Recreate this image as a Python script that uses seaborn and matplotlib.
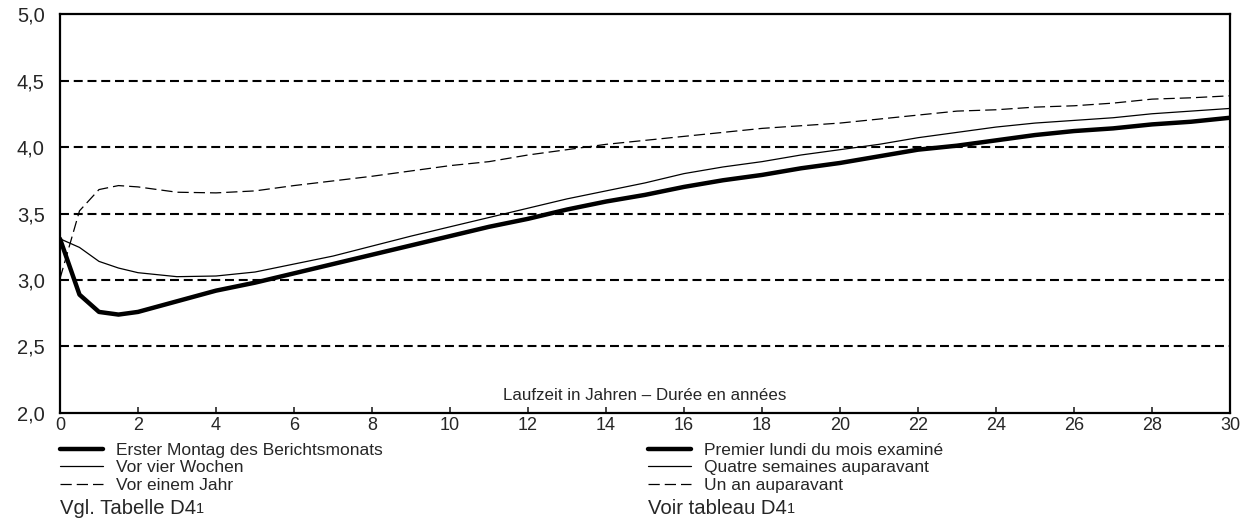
import numpy as np
import pandas as pd
import seaborn as sns
import matplotlib.pyplot as plt
from matplotlib.ticker import FuncFormatter

# Zinsstruktur / courbe des taux
LAUFZEIT = [0, 0.5, 1, 1.5, 2, 3, 4, 5, 6, 7, 8, 9, 10, 11, 12, 13, 14, 15,
            16, 17, 18, 19, 20, 21, 22, 23, 24, 25, 26, 27, 28, 29, 30]
ERSTER_MONTAG = [3.31, 2.89, 2.76, 2.74, 2.76, 2.84, 2.92, 2.98, 3.05, 3.12, 3.19,
                 3.26, 3.33, 3.40, 3.46, 3.53, 3.59, 3.64, 3.70, 3.75, 3.79, 3.84,
                 3.88, 3.93, 3.98, 4.01, 4.05, 4.09, 4.12, 4.14, 4.17, 4.19, 4.22]
VOR_VIER_WOCHEN = [3.31, 3.245, 3.14, 3.09, 3.055, 3.025, 3.03, 3.06, 3.12, 3.18, 3.255,
                   3.33, 3.40, 3.47, 3.54, 3.61, 3.67, 3.73, 3.80, 3.85, 3.89, 3.94,
                   3.98, 4.02, 4.07, 4.11, 4.15, 4.18, 4.20, 4.22, 4.25, 4.27, 4.29]
VOR_EINEM_JAHR = [3.01, 3.52, 3.68, 3.71, 3.70, 3.66, 3.655, 3.67, 3.71, 3.745, 3.78,
                  3.82, 3.86, 3.89, 3.94, 3.98, 4.02, 4.05, 4.08, 4.11, 4.14, 4.16,
                  4.18, 4.21, 4.24, 4.27, 4.28, 4.30, 4.31, 4.33, 4.36, 4.37, 4.385]

LABELS_DE = ['Erster Montag des Berichtsmonats', 'Vor vier Wochen', 'Vor einem Jahr']
LABELS_FR = ['Premier lundi du mois examiné', 'Quatre semaines auparavant', 'Un an auparavant']
GRID_LEVELS = [2.5, 3.0, 3.5, 4.0, 4.5]

sns.set_style('white')
plt.rcParams['font.family'] = ['Liberation Sans', 'DejaVu Sans']

df = pd.DataFrame({'x': LAUFZEIT, 'a': ERSTER_MONTAG, 'b': VOR_VIER_WOCHEN, 'c': VOR_EINEM_JAHR})

fig = plt.figure(figsize=(12.47, 5.21), dpi=100)
ax = fig.add_axes([0.0481, 0.2073, 0.9383, 0.7658])

for lev in GRID_LEVELS:
    ax.axhline(lev, color='black', lw=1.5, dashes=(4.3, 2.3), zorder=1)

sns.lineplot(data=df, x='x', y='a', ax=ax, color='black', lw=3.2, zorder=4)
sns.lineplot(data=df, x='x', y='b', ax=ax, color='black', lw=0.9, zorder=3)
sns.lineplot(data=df, x='x', y='c', ax=ax, color='black', lw=0.9, dashes=(9, 4), zorder=3)

ax.set_xlim(0, 30)
ax.set_ylim(2.0, 5.0)
ax.set_xticks(np.arange(0, 31, 2))
ax.set_yticks(np.arange(2.0, 5.01, 0.5))
ax.yaxis.set_major_formatter(FuncFormatter(lambda v, p: f'{v:.1f}'.replace('.', ',')))
ax.tick_params(axis='x', direction='in', length=4, width=1.2, pad=3, labelsize=13, bottom=True)
ax.tick_params(axis='y', length=0, pad=11, labelsize=14.5)
ax.set_xlabel('')
ax.set_ylabel('')
for s in ax.spines.values():
    s.set_linewidth(1.6)
    s.set_color('black')
ax.text(15, 2.13, 'Laufzeit in Jahren – Durée en années', ha='center', va='center', fontsize=12.2)

lines = ax.get_lines()[len(GRID_LEVELS):]
leg_kw = dict(frameon=False, fontsize=12.5, handlelength=2.45, handletextpad=0.75,
              labelspacing=0.12, borderpad=0, borderaxespad=0)
fig.legend(lines, LABELS_DE, loc='upper left', bbox_to_anchor=(0.0481, 1 - 443 / 521), **leg_kw)
fig.legend(lines, LABELS_FR, loc='upper left', bbox_to_anchor=(648 / 1247, 1 - 443 / 521), **leg_kw)

for x0, txt in [(60, 'Vgl. Tabelle D4'), (648, 'Voir tableau D4')]:
    t = fig.text(x0 / 1247, 1 - 508 / 521, txt, fontsize=14.6, va='center', ha='left')
    ax.annotate('1', xy=(1, 0.1), xycoords=t, fontsize=10.5, va='bottom', ha='left')

fig.savefig('out.png', dpi=100)
